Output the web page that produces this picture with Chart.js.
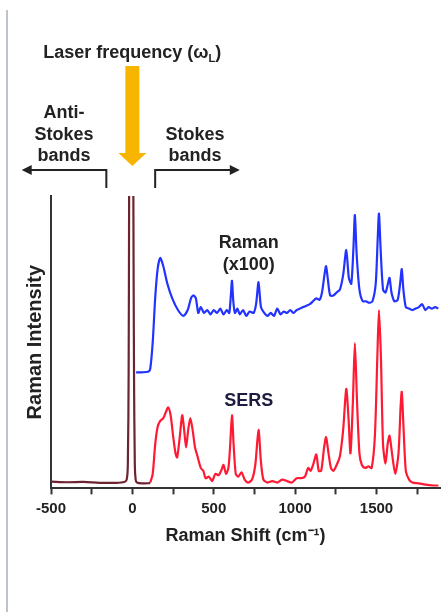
<!DOCTYPE html>
<html lang="en">
<head>
    <meta charset="UTF-8">
    <title>Raman vs SERS</title>
    <style>
        html, body { margin: 0; padding: 0; background: #fff; }
        #wrap { width: 448px; height: 612px; }
    </style>
    <script src="https://cdn.jsdelivr.net/npm/chart.js"></script>
</head>
<body>
    <div id="wrap"><canvas id="ramanChart" width="448" height="612"></canvas></div>

    <script>
        // Rayleigh / laser line (cm-1, intensity in % of plot height)
        const laserShift = [-500, -400, -300, -200, -100, -50, -35, -28, -23, -20, -17, 3, 6, 10, 15, 20, 28, 60, 110];
        const laserInt   = [2.3, 2.1, 2.2, 1.9, 1.9, 2.2, 3, 8, 40, 100, 150, 150, 100, 40, 8, 3, 2, 1.7, 1.8];

        // Normal Raman, scaled x100 (offset up)
        const ramanShift = [23, 60, 100, 110, 125, 140, 155, 171, 190, 215, 245, 280, 313, 340, 360, 375, 390, 405, 420, 440,
            460, 480, 500, 520, 540, 560, 580, 595, 605, 612, 620, 630, 645, 660, 680, 700, 720, 745, 760, 775,
            790, 810, 830, 850, 870, 890, 910, 930, 950, 970, 990, 1010, 1030, 1050, 1070, 1090, 1110, 1130, 1150, 1165,
            1180, 1190, 1200, 1215, 1235, 1255, 1275, 1295, 1314, 1330, 1345, 1358, 1367, 1378, 1395, 1415, 1435, 1455, 1475, 1495,
            1507, 1515, 1525, 1540, 1555, 1570, 1580, 1592, 1610, 1630, 1645, 1655, 1665, 1680, 1700, 1720, 1740, 1760, 1780, 1800,
            1820, 1840, 1860, 1880];
        const ramanInt = [39.7, 39.7, 40, 41, 50, 65, 75, 78.8, 76, 70, 65, 61, 59, 61, 65, 66, 65, 60, 62, 60,
            61, 59.5, 61, 60, 61.5, 59.5, 61, 60, 66, 71, 64, 60, 61.5, 59.5, 61, 59, 60.5, 60, 63, 70.5,
            62, 60, 59, 60, 59, 61.5, 59.5, 60.5, 60, 61, 60, 61, 61.5, 62, 62.5, 63, 64, 65, 64.5, 67,
            73, 76, 72, 66, 66, 67, 68, 73, 81.5, 72, 70, 82, 93.5, 80, 68, 64, 64, 63.5, 64, 70,
            85, 94, 82, 68, 67, 70, 72, 67, 64, 64.5, 70, 75, 68, 62, 61.5, 61, 61.5, 62, 63, 61,
            62, 61.5, 62, 61.5];

        // SERS spectrum
        const sersShift = [110, 125, 140, 155, 170, 190, 205, 220, 235, 250, 265, 275, 290, 306, 318, 330, 343, 356, 370, 385,
            400, 420, 436, 450, 470, 490, 510, 530, 545, 560, 575, 590, 600, 612, 622, 635, 650, 670, 690, 710,
            735, 755, 775, 790, 805, 830, 860, 890, 920, 950, 980, 1010, 1040, 1060, 1080, 1095, 1110, 1130, 1145, 1160,
            1178, 1190, 1205, 1220, 1235, 1255, 1275, 1295, 1314, 1328, 1340, 1355, 1367, 1380, 1395, 1410, 1430, 1450, 1470, 1490,
            1505, 1515, 1527, 1540, 1555, 1568, 1580, 1595, 1615, 1635, 1648, 1655, 1665, 1680, 1700, 1720, 1760, 1800, 1850, 1880];
        const sersInt = [2, 5, 15, 21, 23, 24, 26, 27.7, 25, 18, 12, 10.6, 17, 25, 20, 14, 20, 24, 20, 14,
            11, 7, 6, 3.5, 4, 2.5, 5, 4.5, 6, 8, 5, 7, 14, 25, 15, 5, 4, 5.5, 3, 2,
            3, 8, 20, 9, 3, 2, 2.5, 2, 3, 2.5, 2, 3.5, 3.5, 4, 7, 6, 8, 11.6, 6, 6,
            14, 17.5, 12, 7, 6, 8, 11, 20, 34, 24, 12, 30, 49.7, 30, 12, 8, 7, 7.5, 7, 18,
            45, 61, 45, 15, 8.5, 15, 18, 12, 5, 12, 28, 33, 22, 6, 3, 2, 1.7, 1.3, 1.0, 1.0];

        const xTicks = [-500, 0, 500, 1000, 1500];

        const zip = (xs, ys) => xs.map((x, i) => ({ x: x, y: ys[i] }));
        const boldFont = "Arial, 'Liberation Sans', sans-serif";

        // page frame line + the annotation block above the plot
        const annotations = {
            id: 'annotations',
            beforeDraw(chart) {
                const ctx = chart.ctx;
                ctx.save();
                ctx.fillStyle = '#fff';
                ctx.fillRect(0, 0, chart.width, chart.height);
                ctx.strokeStyle = '#bcc3ca';
                ctx.lineWidth = 2;
                ctx.beginPath();
                ctx.moveTo(7, 10);
                ctx.lineTo(7, chart.height);
                ctx.stroke();
                ctx.restore();
            },
            afterDraw(chart) {
                const ctx = chart.ctx;
                const xs = chart.scales.x;
                const x0 = xs.getPixelForValue(0);
                ctx.save();
                ctx.fillStyle = '#222';
                ctx.textBaseline = 'middle';
                ctx.font = 'bold 18px ' + boldFont;
                const title = 'Laser frequency (ω';
                const w = ctx.measureText(title + ')').width + 7;
                const tx = x0 - w / 2;
                ctx.textAlign = 'left';
                ctx.fillText(title, tx, 53);
                let wx = tx + ctx.measureText(title).width;
                ctx.font = 'bold 11px ' + boldFont;
                ctx.fillText('L', wx, 59);
                wx += ctx.measureText('L').width;
                ctx.font = 'bold 18px ' + boldFont;
                ctx.fillText(')', wx, 53);

                // orange arrow pointing to the laser line
                ctx.fillStyle = '#f7b500';
                ctx.fillRect(x0 - 7, 66, 14, 88);
                ctx.beginPath();
                ctx.moveTo(x0 - 14, 153);
                ctx.lineTo(x0 + 14, 153);
                ctx.lineTo(x0, 166);
                ctx.closePath();
                ctx.fill();

                ctx.fillStyle = '#222';
                ctx.textAlign = 'center';
                ctx.font = 'bold 18px ' + boldFont;
                const lx = xs.getPixelForValue(-420);
                ctx.fillText('Anti-', lx, 113);
                ctx.fillText('Stokes', lx, 135);
                ctx.fillText('bands', lx, 156);
                const rx = xs.getPixelForValue(385);
                ctx.fillText('Stokes', rx, 135);
                ctx.fillText('bands', rx, 156);

                // bracket arrows
                ctx.strokeStyle = '#222';
                ctx.fillStyle = '#222';
                ctx.lineWidth = 2;
                const aL = xs.getPixelForValue(-160), aLend = xs.getPixelForValue(-680);
                const aR = xs.getPixelForValue(140), aRend = xs.getPixelForValue(660);
                ctx.beginPath();
                ctx.moveTo(aL, 188); ctx.lineTo(aL, 170); ctx.lineTo(aLend + 8, 170);
                ctx.moveTo(aR, 188); ctx.lineTo(aR, 170); ctx.lineTo(aRend - 8, 170);
                ctx.stroke();
                ctx.beginPath();
                ctx.moveTo(aLend, 170); ctx.lineTo(aLend + 10, 165); ctx.lineTo(aLend + 10, 175); ctx.closePath();
                ctx.moveTo(aRend, 170); ctx.lineTo(aRend - 10, 165); ctx.lineTo(aRend - 10, 175); ctx.closePath();
                ctx.fill();

                // series labels
                const sx = xs.getPixelForValue(715);
                ctx.fillText('Raman', sx, 243);
                ctx.fillText('(x100)', sx, 265);
                ctx.fillStyle = '#1c1c40';
                ctx.fillText('SERS', sx, 401);
                ctx.restore();
            }
        };

        new Chart(document.getElementById('ramanChart'), {
            type: 'line',
            data: {
                datasets: [
                    { label: 'Laser', data: zip(laserShift, laserInt), borderColor: '#6e2430', borderWidth: 2.2, tension: 0.3 },
                    { label: 'Raman (x100)', data: zip(ramanShift, ramanInt), borderColor: '#2233ff', borderWidth: 2.2, tension: 0.25 },
                    { label: 'SERS', data: zip(sersShift, sersInt), borderColor: '#ff1a33', borderWidth: 2.2, tension: 0.25 }
                ]
            },
            options: {
                responsive: false,
                animation: false,
                events: [],
                elements: { point: { radius: 0 } },
                layout: { padding: { top: 196, left: 23, right: 8, bottom: 65 } },
                plugins: { legend: { display: false }, tooltip: { enabled: false } },
                scales: {
                    x: {
                        type: 'linear',
                        min: -500,
                        max: 1890,
                        border: { color: '#333', width: 2 },
                        grid: { drawOnChartArea: false, drawTicks: true, tickLength: 6, tickColor: '#333', tickWidth: 2 },
                        afterBuildTicks(scale) {
                            const t = [];
                            for (let v = -500; v <= 1890; v += 250) t.push({ value: v });
                            scale.ticks = t;
                        },
                        ticks: {
                            color: '#222',
                            padding: 5,
                            maxRotation: 0,
                            autoSkip: false,
                            font: { family: boldFont, size: 15, weight: 'bold' },
                            callback: v => xTicks.includes(v) ? String(v) : ''
                        },
                        title: {
                            display: true,
                            text: 'Raman Shift (cm⁻¹)',
                            color: '#222',
                            font: { family: boldFont, size: 18, weight: 'bold' },
                            padding: { top: 3, bottom: 0 }
                        }
                    },
                    y: {
                        min: 0,
                        max: 100,
                        border: { color: '#333', width: 2 },
                        grid: { display: false, drawTicks: false },
                        ticks: { display: false },
                        title: {
                            display: true,
                            text: 'Raman Intensity',
                            color: '#222',
                            font: { family: boldFont, size: 20, weight: 'bold' },
                            padding: { top: 0, bottom: 4 }
                        }
                    }
                }
            },
            plugins: [annotations]
        });
    </script>
</body>
</html>
